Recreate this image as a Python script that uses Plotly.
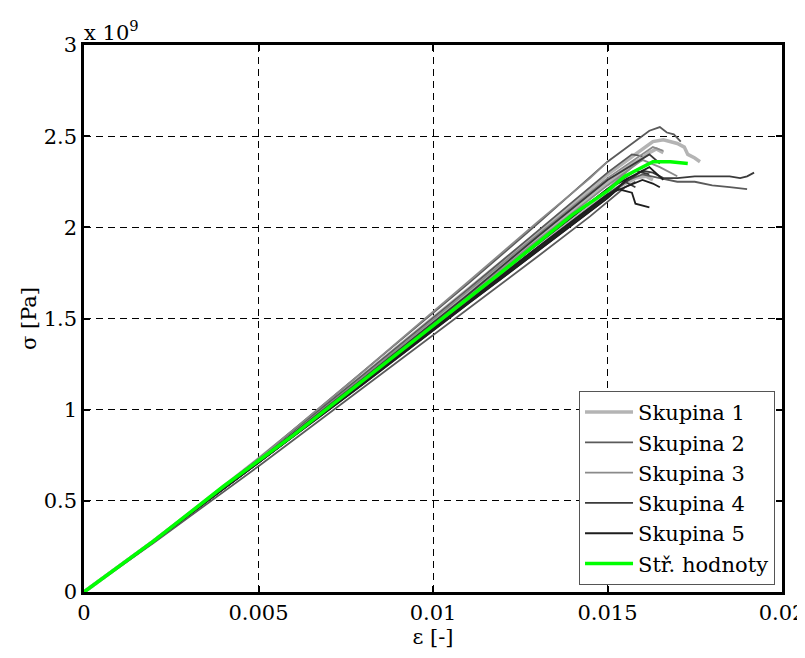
import plotly.graph_objects as go

# ---- data (strain [-], stress [x1e9 Pa]) ----
s1a_e = [0, 0.002, 0.005, 0.008, 0.011, 0.013, 0.015, 0.0163, 0.0166, 0.0170, 0.0172, 0.0173, 0.0175, 0.01765]
s1a_s = [0, 0.28, 0.73, 1.19, 1.66, 1.97, 2.29, 2.47, 2.48, 2.46, 2.44, 2.40, 2.38, 2.36]
s1b_e = [0, 0.002, 0.005, 0.008, 0.011, 0.013, 0.015, 0.0158, 0.0161, 0.0163]
s1b_s = [0, 0.28, 0.72, 1.16, 1.61, 1.91, 2.19, 2.27, 2.28, 2.26]
s1c_e = [0, 0.002, 0.005, 0.008, 0.011, 0.013, 0.015, 0.0158, 0.0160]
s1c_s = [0, 0.28, 0.72, 1.18, 1.64, 1.95, 2.25, 2.36, 2.37]
s1d_e = [0, 0.002, 0.005, 0.008, 0.011, 0.013, 0.015, 0.0162, 0.0164, 0.0166]
s1d_s = [0, 0.28, 0.72, 1.17, 1.63, 1.93, 2.24, 2.41, 2.43, 2.41]

s2a_e = [0, 0.002, 0.005, 0.008, 0.011, 0.013, 0.015, 0.0162, 0.0165, 0.0167, 0.0169, 0.0171]
s2a_s = [0, 0.28, 0.73, 1.21, 1.69, 2.02, 2.36, 2.53, 2.55, 2.52, 2.51, 2.47]
s2b_e = [0, 0.002, 0.005, 0.008, 0.011, 0.013, 0.015, 0.0156, 0.0160, 0.0165, 0.0170, 0.0175, 0.0180, 0.0185, 0.0190]
s2b_s = [0, 0.28, 0.71, 1.15, 1.60, 1.89, 2.18, 2.26, 2.29, 2.27, 2.25, 2.25, 2.23, 2.22, 2.21]
s2c_e = [0, 0.002, 0.005, 0.008, 0.011, 0.013, 0.015, 0.0157, 0.0160]
s2c_s = [0, 0.28, 0.73, 1.19, 1.66, 1.98, 2.30, 2.40, 2.39]
s2d_e = [0, 0.002, 0.005, 0.008, 0.011, 0.013, 0.0145, 0.0155, 0.0158]
s2d_s = [0, 0.27, 0.69, 1.12, 1.55, 1.84, 2.06, 2.22, 2.25]

s3a_e = [0, 0.002, 0.005, 0.008, 0.011, 0.013, 0.015, 0.0163, 0.0166]
s3a_s = [0, 0.28, 0.72, 1.18, 1.65, 1.96, 2.27, 2.44, 2.42]
s3b_e = [0, 0.002, 0.005, 0.008, 0.011, 0.013, 0.015, 0.0157]
s3b_s = [0, 0.28, 0.72, 1.16, 1.61, 1.91, 2.21, 2.33]
s3c_e = [0, 0.002, 0.005, 0.008, 0.011, 0.013, 0.015, 0.0160, 0.0165, 0.0170]
s3c_s = [0, 0.28, 0.72, 1.17, 1.62, 1.93, 2.23, 2.37, 2.33, 2.28]
s3d_e = [0, 0.002, 0.005, 0.008, 0.011, 0.013, 0.0145, 0.0150]
s3d_s = [0, 0.28, 0.73, 1.21, 1.70, 2.03, 2.27, 2.36]

s4a_e = [0, 0.002, 0.005, 0.008, 0.011, 0.013, 0.015, 0.0160, 0.0163, 0.0166, 0.0170, 0.0175, 0.0180, 0.0185, 0.0188, 0.0190, 0.0192]
s4a_s = [0, 0.28, 0.71, 1.15, 1.59, 1.89, 2.18, 2.31, 2.30, 2.27, 2.27, 2.28, 2.28, 2.28, 2.27, 2.28, 2.30]
s4b_e = [0, 0.002, 0.005, 0.008, 0.011, 0.013, 0.015, 0.0162, 0.0165]
s4b_s = [0, 0.28, 0.72, 1.17, 1.63, 1.95, 2.26, 2.40, 2.35]
s4c_e = [0, 0.002, 0.005, 0.008, 0.011, 0.013, 0.015, 0.0155, 0.0158]
s4c_s = [0, 0.28, 0.71, 1.14, 1.58, 1.87, 2.16, 2.25, 2.22]
s4d_e = [0, 0.002, 0.005, 0.008, 0.011, 0.013, 0.015, 0.0158, 0.0162]
s4d_s = [0, 0.28, 0.72, 1.16, 1.61, 1.91, 2.21, 2.31, 2.29]

s5a_e = [0, 0.002, 0.005, 0.008, 0.011, 0.013, 0.015, 0.0153, 0.0157, 0.0158, 0.0162]
s5a_s = [0, 0.28, 0.71, 1.14, 1.58, 1.87, 2.16, 2.21, 2.19, 2.13, 2.11]
s5b_e = [0, 0.002, 0.005, 0.008, 0.011, 0.013, 0.015, 0.0160, 0.0163, 0.0165]
s5b_s = [0, 0.28, 0.71, 1.15, 1.59, 1.89, 2.18, 2.26, 2.24, 2.22]
s5c_e = [0, 0.002, 0.005, 0.008, 0.011, 0.013, 0.015, 0.0162, 0.0166]
s5c_s = [0, 0.28, 0.72, 1.16, 1.61, 1.91, 2.21, 2.33, 2.26]
s5d_e = [0, 0.002, 0.005, 0.008, 0.011, 0.013, 0.015, 0.0156]
s5d_s = [0, 0.28, 0.71, 1.15, 1.59, 1.88, 2.17, 2.27]

mean_e = [0, 0.002, 0.004, 0.006, 0.008, 0.010, 0.012, 0.014, 0.015, 0.0155, 0.016, 0.0163, 0.0168, 0.0173]
mean_s = [0, 0.28, 0.58, 0.86, 1.16, 1.46, 1.76, 2.07, 2.20, 2.28, 2.33, 2.36, 2.36, 2.35]

group_names = ["Skupina 1", "Skupina 2", "Skupina 3", "Skupina 4", "Skupina 5"]
mean_name = "Stř. hodnoty"
x_ticks = [0, 0.005, 0.01, 0.015, 0.02]
x_tick_labels = ["0", "0.005", "0.01", "0.015", "0.02"]
y_ticks = [0, 0.5, 1, 1.5, 2, 2.5, 3]
y_tick_labels = ["0", "0.5", "1", "1.5", "2", "2.5", "3"]

groups = [
    [(s1a_e, s1a_s), (s1b_e, s1b_s), (s1c_e, s1c_s), (s1d_e, s1d_s)],
    [(s2a_e, s2a_s), (s2b_e, s2b_s), (s2c_e, s2c_s), (s2d_e, s2d_s)],
    [(s3a_e, s3a_s), (s3b_e, s3b_s), (s3c_e, s3c_s), (s3d_e, s3d_s)],
    [(s4a_e, s4a_s), (s4b_e, s4b_s), (s4c_e, s4c_s), (s4d_e, s4d_s)],
    [(s5a_e, s5a_s), (s5b_e, s5b_s), (s5c_e, s5c_s), (s5d_e, s5d_s)],
]
colors = ["#b4b4b4", "#5a5a5a", "#8a8a8a", "#3a3a3a", "#1e1e1e"]
widths = [3.5, 1.8, 1.8, 1.8, 1.8]

FONT = "DejaVu Serif, Liberation Serif, serif"
FS = 21
fig = go.Figure()
for gi, grp in enumerate(groups):
    for si, (e, s) in enumerate(grp):
        fig.add_trace(go.Scatter(
            x=e, y=s, mode="lines", name=group_names[gi],
            legendgroup=group_names[gi], showlegend=(si == 0),
            line=dict(color=colors[gi], width=widths[gi]),
        ))
fig.add_trace(go.Scatter(x=mean_e, y=mean_s, mode="lines", name=mean_name,
                         line=dict(color="#00ff00", width=3.5)))

axis_common = dict(
    showline=True, linecolor="black", linewidth=2.5, mirror="ticks",
    ticks="inside", ticklen=6, tickwidth=2, tickcolor="black",
    showgrid=True, gridcolor="black", gridwidth=1, griddash="7px,5px",
    zeroline=False, automargin=False, ticklabeloverflow="allow",
    tickfont=dict(family=FONT, size=FS, color="black"),
)
fig.update_xaxes(range=[0, 0.02], tickvals=x_ticks, ticktext=x_tick_labels,
                 title=dict(text="ε [-]", font=dict(family=FONT, size=FS, color="black"), standoff=0),
                 **axis_common)
fig.update_yaxes(range=[0, 3], tickvals=y_ticks, ticktext=y_tick_labels,
                 title=dict(text="σ [Pa]", font=dict(family=FONT, size=FS, color="black"), standoff=2),
                 **axis_common)

fig.add_annotation(text="x 10<sup>9</sup>", xref="paper", yref="paper", x=0, y=1,
                   xanchor="left", yanchor="bottom", showarrow=False, yshift=-2, xshift=-2,
                   font=dict(family=FONT, size=FS, color="black"))

# page body has an 8px default margin; size the figure so the plot lands where the reference has it
fig.update_layout(
    width=797, height=650,
    margin=dict(l=76, r=23, t=37, b=66),
    paper_bgcolor="white", plot_bgcolor="white",
    font=dict(family=FONT, size=FS, color="black"),
    legend=dict(x=0.99, y=0.013, xanchor="right", yanchor="bottom",
                bgcolor="white", bordercolor="#555555", borderwidth=1,
                font=dict(family=FONT, size=FS, color="black"),
                tracegroupgap=0, itemwidth=48),
)
fig.write_html("out.html")
